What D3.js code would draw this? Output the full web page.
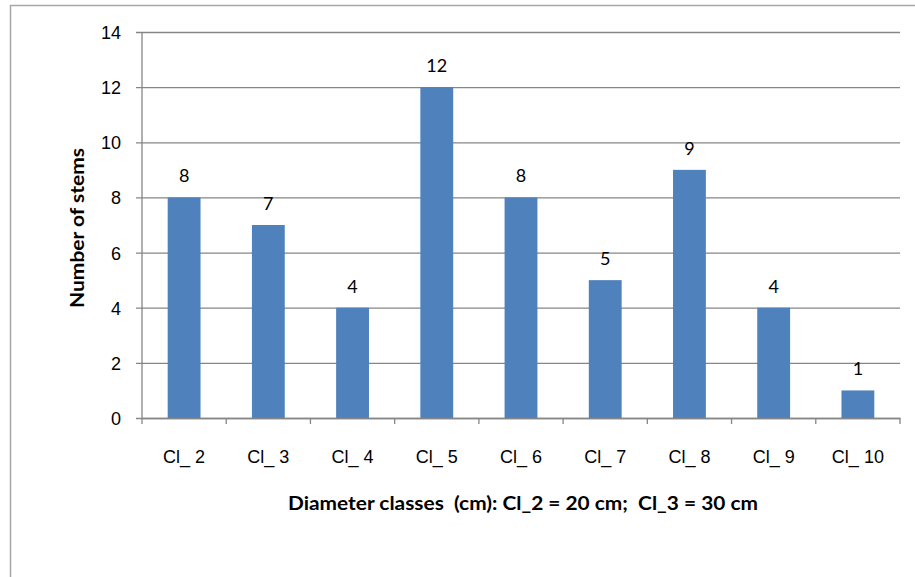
<!DOCTYPE html>
<html>
<head>
<meta charset="utf-8">
<script src="https://cdn.jsdelivr.net/npm/d3@7"></script>
<style>
  html, body { margin: 0; padding: 0; background: #fff; }
  svg { display: block; font-family: Lato, "Open Sans", sans-serif; }
</style>
</head>
<body>
<svg id="chart" width="915" height="577"></svg>
<script>
// Stem counts per diameter class
const categories = ["Cl_ 2", "Cl_ 3", "Cl_ 4", "Cl_ 5", "Cl_ 6", "Cl_ 7", "Cl_ 8", "Cl_ 9", "Cl_ 10"];
const stems = [8, 7, 4, 12, 8, 5, 9, 4, 1];
const yTicks = [0, 2, 4, 6, 8, 10, 12, 14];
const yTitle = "Number of stems";
const xTitle = "Diameter classes  (cm): Cl_2 = 20 cm;  Cl_3 = 30 cm";

const svg = d3.select("#chart");
const plot = { left: 142, right: 900, top: 32, bottom: 418 };
const axisGrey = "#868686";

// Outer chart frame (runs off the right and bottom edges)
svg.append("rect")
  .attr("x", 10.5).attr("y", 5.5)
  .attr("width", 920).attr("height", 600)
  .attr("fill", "none").attr("stroke", "#a6a6a6").attr("stroke-width", 1.5);

const x = d3.scaleBand().domain(categories).range([plot.left, plot.right]).padding(0);
const y = d3.scaleLinear().domain([0, 14]).range([plot.bottom, plot.top]);

// Horizontal gridlines with short outward tick marks
const yAxis = svg.append("g")
  .attr("transform", `translate(${plot.left},0)`)
  .call(d3.axisLeft(y).tickValues(yTicks).tickSize(0));
yAxis.select(".domain").remove();
yAxis.selectAll(".tick line")
  .attr("x1", -6).attr("x2", plot.right - plot.left)
  .attr("stroke", axisGrey).attr("stroke-width", 1.3);
yAxis.selectAll(".tick text")
  .attr("x", -21).attr("dy", "0.36em")
  .attr("font-size", 18).attr("fill", "#000");

// Bars
const barW = x.bandwidth() * 0.39;
svg.append("g").selectAll("rect")
  .data(stems)
  .join("rect")
  .attr("x", (d, i) => x(categories[i]) + (x.bandwidth() - barW) / 2)
  .attr("y", d => y(d))
  .attr("width", barW)
  .attr("height", d => y(0) - y(d))
  .attr("fill", "#4f81bd");

// Value labels above bars
svg.append("g").selectAll("text")
  .data(stems)
  .join("text")
  .attr("x", (d, i) => x(categories[i]) + x.bandwidth() / 2)
  .attr("y", d => y(d) - 15)
  .attr("text-anchor", "middle")
  .attr("font-size", 18)
  .attr("fill", "#000")
  .text(d => d);

// Vertical axis line
svg.append("line")
  .attr("x1", plot.left).attr("x2", plot.left)
  .attr("y1", plot.top).attr("y2", plot.bottom)
  .attr("stroke", axisGrey).attr("stroke-width", 1.3);

// Category axis
const xAxis = svg.append("g")
  .attr("transform", `translate(0,${plot.bottom})`)
  .call(d3.axisBottom(x).tickSize(0));
xAxis.select(".domain").attr("stroke", axisGrey).attr("stroke-width", 1.3);
xAxis.selectAll(".tick text")
  .attr("y", 45).attr("dy", 0)
  .attr("font-size", 18).attr("fill", "#000");
svg.append("g").selectAll("line")
  .data(d3.range(categories.length + 1))
  .join("line")
  .attr("x1", i => plot.left + i * x.step())
  .attr("x2", i => plot.left + i * x.step())
  .attr("y1", plot.bottom).attr("y2", plot.bottom + 6)
  .attr("stroke", axisGrey).attr("stroke-width", 1.3);

// Axis titles
svg.append("text")
  .attr("x", (plot.left + plot.right) / 2 + 2)
  .attr("y", 510)
  .attr("text-anchor", "middle")
  .attr("font-size", 18).attr("font-weight", "bold")
  .attr("textLength", 470).attr("lengthAdjust", "spacingAndGlyphs")
  .style("white-space", "pre")
  .text(xTitle);

svg.append("text")
  .attr("transform", `translate(84,228) rotate(-90)`)
  .attr("text-anchor", "middle")
  .attr("font-size", 19).attr("font-weight", "bold")
  .attr("textLength", 160).attr("lengthAdjust", "spacingAndGlyphs")
  .text(yTitle);
</script>
</body>
</html>
